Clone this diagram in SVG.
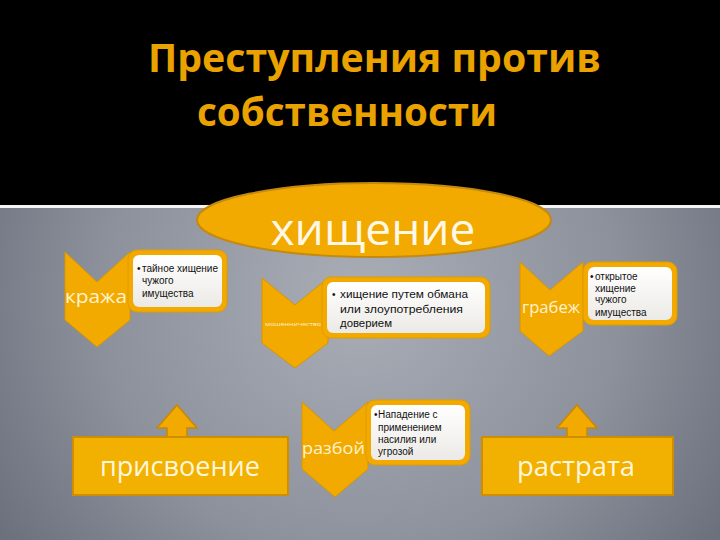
<svg xmlns="http://www.w3.org/2000/svg" width="720" height="540" viewBox="0 0 720 540">
<defs>
<radialGradient id="bg" cx="360" cy="300" r="430" gradientUnits="userSpaceOnUse">
<stop offset="0" stop-color="#a9adb6"/>
<stop offset="0.6" stop-color="#8d919c"/>
<stop offset="1" stop-color="#6c707c"/>
</radialGradient>
<linearGradient id="wf" x1="0" y1="0" x2="0" y2="1">
<stop offset="0" stop-color="#ffffff"/>
<stop offset="1" stop-color="#eceae6"/>
</linearGradient>
<style>
.o{fill:#f2a900;stroke:#d89600;stroke-width:1}
.box{fill:#f2a900;stroke:#e09c00;stroke-width:1}
.in{fill:url(#wf)}
.lab{font-family:"Open Sans","Liberation Sans",sans-serif;fill:#fff3cf}
.t{font-family:"Liberation Sans","DejaVu Sans",sans-serif;fill:#111;font-size:10px}
.big{font-family:"Open Sans","Liberation Sans",sans-serif;fill:#fff6dc;font-size:28px;text-anchor:middle}
.arr{fill:#f2a900;stroke:#c98800;stroke-width:1.5}
</style>
</defs>
<rect x="0" y="0" width="720" height="540" fill="url(#bg)"/>
<rect x="0" y="0" width="720" height="205" fill="#000"/>
<rect x="0" y="205" width="720" height="3" fill="#f4f4f4"/>
<g id="title" font-family="'Open Sans','Liberation Sans',sans-serif" font-weight="bold" fill="#eaa200" font-size="39">
<text x="148" y="72" textLength="453" lengthAdjust="spacingAndGlyphs">Преступления против</text>
<text x="197" y="126" textLength="300" lengthAdjust="spacingAndGlyphs">собственности</text>
</g>
<g id="connectors">
<polygon class="arr" points="177,405 197,428 187,428 187,438 167,438 167,428 157,428"/>
<polygon class="arr" points="577,405 597,428 587,428 587,438 567,438 567,428 557,428"/>
</g>
<g id="hishchenie">
<ellipse cx="374" cy="220" rx="177" ry="37" fill="#f2a900" stroke="#c48a10" stroke-width="2"/>
<text x="373" y="245" font-family="'Open Sans','Liberation Sans',sans-serif" font-size="44" fill="#fff8e6" text-anchor="middle" textLength="205" lengthAdjust="spacingAndGlyphs">хищение</text>
</g>
<g id="krazha">
<path class="o" d="M65,252 L97,282 L130,252 L130,320 L97,347 L65,320 Z"/>
<rect class="box" x="128" y="250" width="99" height="62" rx="9"/>
<rect class="in" x="133" y="255" width="89" height="52" rx="6"/>
<text class="lab" x="65" y="303" font-size="18.5" textLength="62" lengthAdjust="spacingAndGlyphs">кража</text>
<text class="t" x="137" y="272">•<tspan x="142">тайное хищение</tspan></text>
<text class="t" x="142" y="284">чужого</text>
<text class="t" x="142" y="297">имущества</text>
</g>
<g id="moshennichestvo">
<path class="o" d="M262,278 L295,305 L328,278 L328,343 L295,368 L262,343 Z"/>
<rect class="box" x="322" y="277" width="168" height="61" rx="9"/>
<rect class="in" x="327" y="282" width="158" height="51" rx="6"/>
<text class="lab" x="265" y="326" font-size="6" textLength="56" lengthAdjust="spacingAndGlyphs">мошенничество</text>
<text class="t" x="332" y="298" font-size="12.5">•</text>
<text class="t" x="340" y="298" font-size="12.5" textLength="128" lengthAdjust="spacingAndGlyphs">хищение путем обмана</text>
<text class="t" x="340" y="313" font-size="12.5" textLength="123" lengthAdjust="spacingAndGlyphs">или злоупотребления</text>
<text class="t" x="340" y="327" font-size="12.5" textLength="52" lengthAdjust="spacingAndGlyphs">доверием</text>
</g>
<g id="grabezh">
<path class="o" d="M520,262 L550,290 L583,262 L583,331 L549,356 L520,331 Z"/>
<rect class="box" x="583" y="262" width="94" height="63" rx="9"/>
<rect class="in" x="588" y="267" width="84" height="53" rx="6"/>
<text class="lab" x="522" y="313" font-size="17" textLength="58" lengthAdjust="spacingAndGlyphs">грабеж</text>
<text class="t" x="590" y="280">•<tspan x="595">открытое</tspan></text>
<text class="t" x="595" y="292">хищение</text>
<text class="t" x="595" y="303">чужого</text>
<text class="t" x="595" y="316">имущества</text>
</g>
<g id="razboy">
<path class="o" d="M302,402 L334,431 L368,402 L368,469 L335,497 L302,469 Z"/>
<rect class="box" x="366" y="400" width="104" height="65" rx="9"/>
<rect class="in" x="371" y="405" width="94" height="55" rx="6"/>
<text class="lab" x="302" y="454" font-size="17" textLength="63" lengthAdjust="spacingAndGlyphs">разбой</text>
<text class="t" x="374" y="418">•<tspan x="378">Нападение с</tspan></text>
<text class="t" x="378" y="431">применением</text>
<text class="t" x="378" y="443">насилия или</text>
<text class="t" x="378" y="455">угрозой</text>
</g>
<g id="prisvoenie">
<rect x="73" y="437" width="215" height="58" fill="#f2b000" stroke="#cf8d00" stroke-width="2"/>
<text class="big" x="180" y="476" textLength="160" lengthAdjust="spacingAndGlyphs">присвоение</text>
</g>
<g id="rastrata">
<rect x="482" y="437" width="191" height="58" fill="#f2b000" stroke="#cf8d00" stroke-width="2"/>
<text class="big" x="576" y="476" textLength="118" lengthAdjust="spacingAndGlyphs">растрата</text>
</g>
</svg>
